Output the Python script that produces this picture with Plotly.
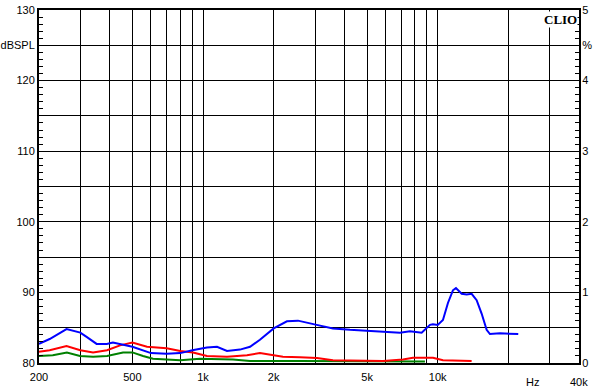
import plotly.graph_objects as go

# ---- data ----
blue_f = [200, 222, 262, 300, 319, 352, 389, 413, 500, 539, 600, 700, 800, 900, 1039, 1147, 1265, 1437,
          1586, 1748, 2000, 2278, 2538, 3050, 3577, 4228, 5846, 6904, 7616, 8542, 9270, 9546, 10000,
          10528, 11056, 11610, 11958, 12648, 13284, 13950, 14652, 15386, 16160, 16694, 18420, 20314, 22040]
blue_v = [82.7, 83.4, 84.8, 84.3, 83.7, 82.7, 82.7, 82.9, 82.3, 81.9, 81.4, 81.3, 81.4, 81.8, 82.2, 82.3, 81.7, 81.9,
          82.3, 83.3, 84.9, 85.9, 86.0, 85.4, 84.9, 84.7, 84.5, 84.3, 84.5, 84.3, 85.4, 85.5, 85.4,
          86.1, 88.5, 90.3, 90.6, 89.8, 89.7, 89.8, 88.9, 87.0, 84.7, 84.1, 84.2, 84.2, 84.1]

red_f = [200, 222, 262, 300, 340, 390, 443, 500, 577, 700, 800, 906, 1039, 1265, 1539, 1748, 2000, 2191,
         2589, 3060, 3577, 5846, 7112, 7843, 9546, 10528, 13950]
red_v = [81.6, 81.8, 82.4, 81.8, 81.5, 81.8, 82.5, 82.9, 82.3, 82.1, 81.7, 81.5, 81.0, 80.9, 81.1, 81.4, 81.1, 80.9,
         80.8, 80.7, 80.4, 80.3, 80.5, 80.75, 80.75, 80.4, 80.3]

green_f = [200, 229, 263, 299, 340, 390, 456, 500, 555, 612, 800, 970, 1342, 1586, 2538, 5846, 8823]
green_v = [81.0, 81.1, 81.5, 81.0, 80.9, 81.0, 81.5, 81.5, 81.0, 80.6, 80.4, 80.6, 80.5, 80.3, 80.3, 80.25, 80.2]

x_grid = [200, 300, 400, 500, 600, 700, 800, 900, 1000, 2000, 3000, 4000, 5000, 6000, 7000, 8000, 9000,
          10000, 20000, 30000]
x_text = ["200", "", "", "500", "", "", "", "", "1k", "2k", "", "", "5k", "", "", "", "",
          "10k", "", ""]

y_vals = [80, 85, 90, 95, 100, 105, 110, 115, 120, 125, 130]
y_text = ["80", "", "90", "", "100", "", "110", "", "120", "dBSPL", "130"]

y2_vals = [0, 0.5, 1, 1.5, 2, 2.5, 3, 3.5, 4, 4.5, 5]
y2_text = ["0", "", "1", "", "2", "", "3", "", "4", "%", "5"]

font = dict(family="Arial, Liberation Sans, sans-serif", size=11, color="#000000")

fig = go.Figure()
fig.add_trace(go.Scatter(x=green_f, y=green_v, mode="lines", line=dict(color="#008000", width=2), showlegend=False))
fig.add_trace(go.Scatter(x=red_f, y=red_v, mode="lines", line=dict(color="#ff0000", width=2), showlegend=False))
fig.add_trace(go.Scatter(x=blue_f, y=blue_v, mode="lines", line=dict(color="#0000ff", width=2), showlegend=False))
# dummy trace on right axis
fig.add_trace(go.Scatter(x=[1000], y=[0], yaxis="y2", mode="lines", showlegend=False, hoverinfo="skip"))

fig.update_layout(
    width=603, height=392,
    margin=dict(l=39, r=24, t=10, b=29),
    paper_bgcolor="white", plot_bgcolor="white",
    font=font,
    xaxis=dict(type="log", range=[2.30103, 4.60206], tickmode="array", tickvals=x_grid, ticktext=x_text,
               showgrid=True, gridcolor="black", gridwidth=1, showline=True, linecolor="black", linewidth=2,
               mirror=True, ticks="", zeroline=False, tickfont=font, automargin=False, ticklabelstandoff=3),
    yaxis=dict(range=[80, 130], tickmode="array", tickvals=y_vals, ticktext=y_text,
               showgrid=True, gridcolor="black", gridwidth=1, showline=True, linecolor="black", linewidth=2,
               mirror=True, ticks="inside", ticklen=5, tickcolor="black", zeroline=False, tickfont=font,
               automargin=False, ticklabelstandoff=0,
               minor=dict(dtick=1, ticks="inside", ticklen=4, tickcolor="black", showgrid=False)),
    yaxis2=dict(range=[0, 5], overlaying="y", side="right", tickmode="array", tickvals=y2_vals, ticktext=y2_text,
                showgrid=False, showline=True, linecolor="black", linewidth=1, ticks="inside", ticklen=5,
                tickcolor="black", zeroline=False, tickfont=font, automargin=False,
                minor=dict(dtick=0.1, ticks="inside", ticklen=4, tickcolor="black", showgrid=False)),
    annotations=[
        dict(text="Hz", x=0.913, y=-0.03, xref="paper", yref="paper", showarrow=False, xanchor="center",
             yanchor="top", font=font),
        dict(text="40k", x=1.0, y=-0.03, xref="paper", yref="paper", showarrow=False, xanchor="center",
             yanchor="top", font=font),
        dict(text="<b>CLIO</b>", x=0.999, y=0.997, xref="paper", yref="paper", showarrow=False, xanchor="right",
             yanchor="top", font=dict(family="Liberation Serif, Times New Roman, serif", size=13, color="black"),
             bgcolor="white", borderpad=0),
    ],
)

fig.write_html("out.html")
